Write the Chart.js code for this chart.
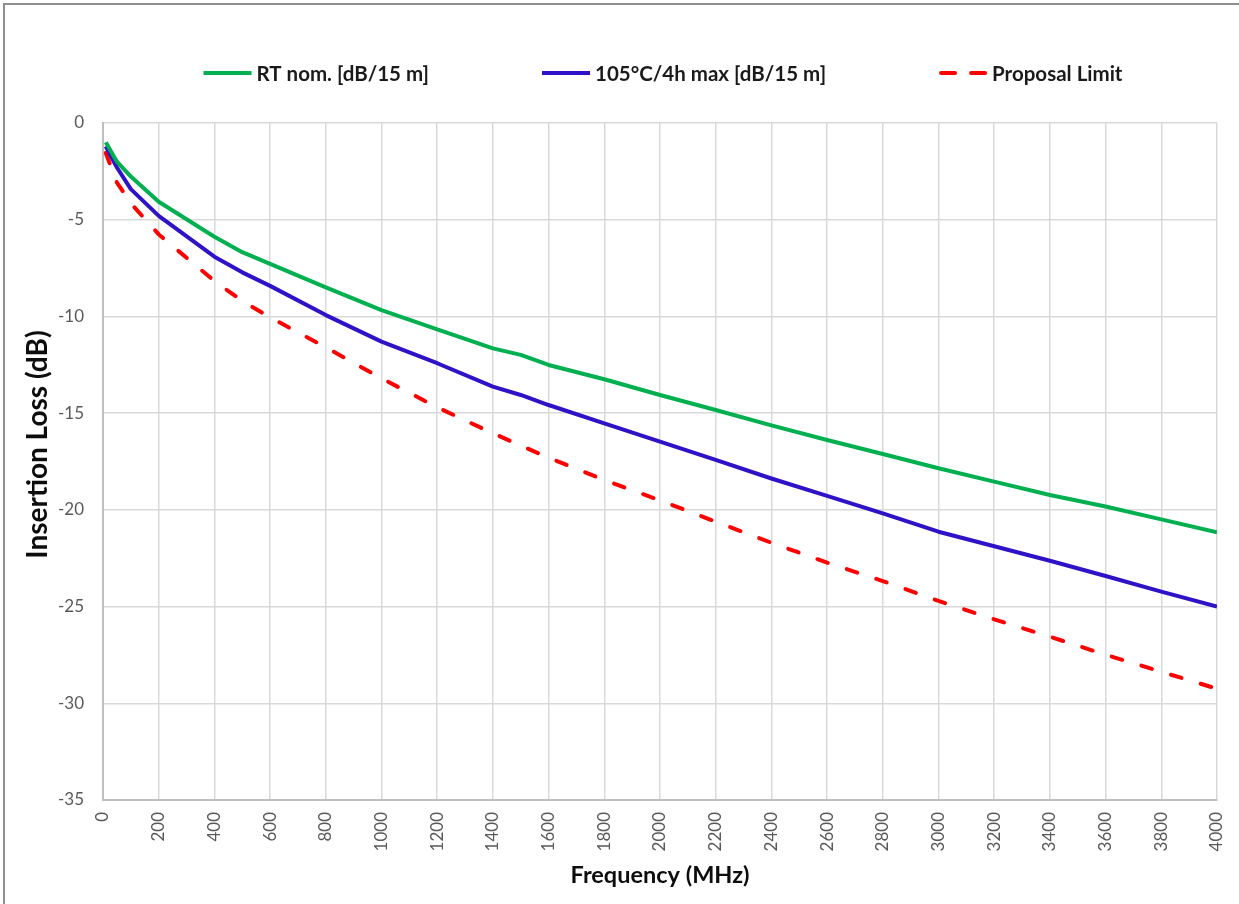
<!DOCTYPE html>
<html>
<head>
<meta charset="utf-8">
<title>Insertion Loss vs Frequency</title>
<script src="https://cdn.jsdelivr.net/npm/chart.js@4/dist/chart.umd.min.js"></script>
<style>
  html, body { margin: 0; padding: 0; background: #ffffff; }
  #wrap { position: relative; width: 1239px; height: 904px; }
  canvas { display: block; }
</style>
</head>
<body>
<div id="wrap"><canvas id="chart" width="1239" height="904"></canvas></div>
<script>
// Frequency points (MHz)
const freqMHz = [10, 50, 100, 200, 400, 500, 600, 800, 1000, 1200, 1400, 1500, 1600,
                 1800, 2000, 2200, 2400, 2600, 2800, 3000, 3200, 3400, 3600, 3800, 4000];

// Insertion loss, room temperature nominal [dB/15 m]
const rtNominal = [-1.0, -2.0, -2.77, -4.07, -5.88, -6.68, -7.28, -8.5, -9.67, -10.67, -11.65, -11.99, -12.51,
                   -13.25, -14.06, -14.84, -15.63, -16.39, -17.11, -17.85, -18.54, -19.23, -19.83, -20.49, -21.16];

// Insertion loss after 105°C / 4h, maximum [dB/15 m]
const hot105Max = [-1.2, -2.3, -3.42, -4.8, -6.91, -7.72, -8.42, -9.93, -11.3, -12.42, -13.63, -14.06, -14.58,
                   -15.53, -16.47, -17.42, -18.38, -19.28, -20.18, -21.13, -21.88, -22.63, -23.42, -24.23, -25.0];

// Proposed limit line
const proposalLimit = [-1.55, -3.08, -4.15, -5.76, -8.17, -9.2, -10.05, -11.6, -13.2, -14.7, -16.04, -16.68, -17.3,
                       -18.46, -19.51, -20.61, -21.7, -22.73, -23.68, -24.71, -25.66, -26.56, -27.49, -28.37, -29.25];

const seriesLabels = ['RT nom. [dB/15 m]', '105°C/4h max [dB/15 m]', 'Proposal Limit'];
const yTitle = 'Insertion Loss (dB)';
const xTitle = 'Frequency (MHz)';

// Axis ranges and steps
const xRange = [0, 4000], xStep = 200;
const yRange = [-35, 0], yStep = 5;

const FONT = 'Lato, "Open Sans", sans-serif';

const toPoints = (ys) => freqMHz.map((f, i) => ({ x: f, y: ys[i] }));

// Outer frame (top and left edges of the chart box)
const framePlugin = {
  id: 'frame',
  beforeDraw(chart) {
    const ctx = chart.ctx;
    ctx.save();
    ctx.fillStyle = '#ffffff';
    ctx.fillRect(0, 0, chart.width, chart.height);
    ctx.strokeStyle = '#8f8f8f';
    ctx.lineWidth = 2;
    ctx.beginPath();
    ctx.moveTo(4, chart.height);
    ctx.lineTo(4, 4);
    ctx.lineTo(chart.width, 4);
    ctx.stroke();
    ctx.restore();
  }
};

// Vertical axis title, drawn a little above the plot's mid-height
const yTitlePlugin = {
  id: 'yTitle',
  afterDraw(chart) {
    const ctx = chart.ctx;
    const area = chart.chartArea;
    ctx.save();
    ctx.translate(38, (area.top + area.bottom) / 2 - 17);
    ctx.rotate(-Math.PI / 2);
    ctx.font = 'bold 28px ' + FONT;
    ctx.fillStyle = '#0d0d0d';
    ctx.textAlign = 'center';
    ctx.textBaseline = 'middle';
    ctx.fillText(yTitle, 0, 0);
    ctx.restore();
  }
};

// Legend row above the plot: line swatch + label, centred over the plot area
const legendPlugin = {
  id: 'topLegend',
  afterDraw(chart) {
    const ctx = chart.ctx;
    const area = chart.chartArea;
    const swatch = 48, textGap = 5, itemGap = 113, y = 73;
    ctx.save();
    ctx.font = 'bold 20.5px ' + FONT;
    const items = chart.data.datasets.map(ds => ({
      label: ds.label, color: ds.borderColor, dash: ds.legendDash || [],
      w: ctx.measureText(ds.label).width
    }));
    const total = items.reduce((s, it) => s + swatch + textGap + it.w, 0) + itemGap * (items.length - 1);
    let x = (area.left + area.right) / 2 + 3 - total / 2;
    items.forEach(it => {
      ctx.strokeStyle = it.color;
      ctx.lineWidth = 4;
      ctx.lineCap = it.dash.length ? 'round' : 'butt';
      ctx.setLineDash(it.dash);
      ctx.beginPath();
      ctx.moveTo(x + (it.dash.length ? 2 : 0), y);
      ctx.lineTo(x + swatch, y);
      ctx.stroke();
      ctx.setLineDash([]);
      ctx.fillStyle = '#1a1a1a';
      ctx.textBaseline = 'middle';
      ctx.textAlign = 'left';
      ctx.fillText(it.label, x + swatch + textGap, y + 1);
      x += swatch + textGap + it.w + itemGap;
    });
    ctx.restore();
  }
};

new Chart(document.getElementById('chart'), {
  type: 'line',
  data: {
    datasets: [
      {
        label: seriesLabels[0],
        data: toPoints(rtNominal),
        borderColor: '#00b050',
        borderWidth: 4,
        pointRadius: 0,
        tension: 0,
        borderJoinStyle: 'round',
        fill: false
      },
      {
        label: seriesLabels[1],
        data: toPoints(hot105Max),
        borderColor: '#2f12c8',
        borderWidth: 4,
        pointRadius: 0,
        tension: 0,
        borderJoinStyle: 'round',
        fill: false
      },
      {
        label: seriesLabels[2],
        data: toPoints(proposalLimit),
        borderColor: '#ff0000',
        borderWidth: 4,
        borderDash: [11, 20],
        borderCapStyle: 'round',
        legendDash: [14, 16],
        pointRadius: 0,
        tension: 0,
        fill: false
      }
    ]
  },
  options: {
    responsive: false,
    animation: false,
    devicePixelRatio: 1,
    layout: { padding: { top: 123, right: 22, bottom: 0, left: 0 } },
    plugins: {
      legend: { display: false },
      tooltip: { enabled: false }
    },
    scales: {
      x: {
        type: 'linear',
        min: xRange[0],
        max: xRange[1],
        afterFit(scale) {
          scale.height = 104;
          scale.paddingLeft = 0;
          scale.paddingRight = 0;
        },
        ticks: {
          stepSize: xStep,
          autoSkip: false,
          minRotation: 90,
          maxRotation: 90,
          padding: 12,
          color: '#595959',
          font: { family: FONT, size: 17 },
          callback: (v) => String(v)
        },
        grid: { color: '#d9d9d9', lineWidth: 1.5, drawTicks: false },
        border: { color: '#bfbfbf', width: 2 },
        title: {
          display: true,
          text: xTitle,
          color: '#0d0d0d',
          font: { family: FONT, size: 23.5, weight: 'bold', lineHeight: 1.2 },
          padding: { top: 0, bottom: 14 }
        }
      },
      y: {
        type: 'linear',
        min: yRange[0],
        max: yRange[1],
        afterFit(scale) { scale.width = 103; },
        ticks: {
          stepSize: yStep,
          padding: 19,
          color: '#595959',
          font: { family: FONT, size: 17 },
          callback: (v) => String(v)
        },
        grid: { color: '#d9d9d9', lineWidth: 1.5, drawTicks: false },
        border: { color: '#bfbfbf', width: 2 },
        title: { display: false }
      }
    }
  },
  plugins: [framePlugin, legendPlugin, yTitlePlugin]
});
</script>
</body>
</html>
